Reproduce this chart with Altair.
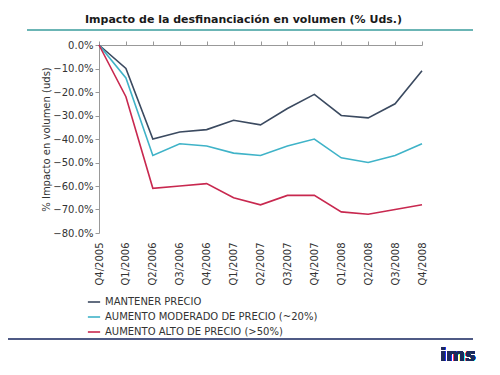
import altair as alt
import pandas as pd

quarters = ["Q4/2005", "Q1/2006", "Q2/2006", "Q3/2006", "Q4/2006", "Q1/2007",
            "Q2/2007", "Q3/2007", "Q4/2007", "Q1/2008", "Q2/2008", "Q3/2008", "Q4/2008"]
series_names = ["MANTENER PRECIO", "AUMENTO MODERADO DE PRECIO (~20%)", "AUMENTO ALTO DE PRECIO (>50%)"]
mantener = [0, -10, -40, -37, -36, -32, -34, -27, -21, -30, -31, -25, -11]
moderado = [0, -14, -47, -42, -43, -46, -47, -43, -40, -48, -50, -47, -42]
alto = [0, -22, -61, -60, -59, -65, -68, -64, -64, -71, -72, -70, -68]
colors = ["#3b4a60", "#3fb3c8", "#c8284f"]

rows = []
for name, vals in zip(series_names, [mantener, moderado, alto]):
    for q, v in zip(quarters, vals):
        rows.append({"quarter": q, "series": name, "value": v / 100.0})
df = pd.DataFrame(rows)

FONT = "DejaVu Sans"

x_scale = alt.Scale(domain=quarters, type="point", padding=0)
y_scale = alt.Scale(domain=[-0.8, 0], nice=False)

lines = alt.Chart(df).mark_line(strokeWidth=1.6).encode(
    x=alt.X("quarter:N", sort=quarters, scale=x_scale,
            axis=alt.Axis(orient="bottom", title=None, labelAngle=270, labelAlign="right",
                          labelBaseline="middle", domain=False, ticks=False, labelPadding=9,
                          labelFontSize=10, labelColor="#333333", labelFont=FONT)),
    y=alt.Y("value:Q", scale=y_scale,
            axis=alt.Axis(format=".1%", values=[0, -0.1, -0.2, -0.3, -0.4, -0.5, -0.6, -0.7, -0.8],
                          grid=False, domainColor="#999999", tickColor="#999999", tickSize=4,
                          labelFontSize=10, labelColor="#333333", labelFont=FONT,
                          title="% Impacto en volumen (uds)", titleFont=FONT, titleFontSize=10,
                          titleFontWeight="normal", titleColor="#333333", titlePadding=1)),
    color=alt.Color("series:N", sort=series_names,
                    scale=alt.Scale(domain=series_names, range=colors),
                    legend=alt.Legend(title=None, orient="none", legendX=-12, legendY=250,
                                      symbolType="stroke", symbolSize=150, symbolStrokeWidth=1.6,
                                      labelFont=FONT, labelFontSize=10, labelColor="#333333",
                                      labelLimit=400, rowPadding=3)),
)

top_axis = alt.Chart(df).mark_point(opacity=0).encode(
    x=alt.X("quarter:N", sort=quarters, scale=x_scale,
            axis=alt.Axis(orient="top", title=None, labels=False, domainColor="#999999",
                          tickColor="#999999", tickSize=4)),
)

teal_rule = alt.Chart(df).mark_rule(color="#6bb5b5", strokeWidth=2).encode(
    x=alt.value(-72), x2=alt.value(374), y=alt.value(-15))
bottom_rule = alt.Chart(df).mark_rule(color="#4f5a85", strokeWidth=2).encode(
    x=alt.value(-91), x2=alt.value(374), y=alt.value(294))
logo = alt.Chart(df).mark_text(text="ims", font=FONT, fontSize=18, fontWeight="bold",
                               color="#1b2a5c", align="center", baseline="middle").encode(
    x=alt.value(359), y=alt.value(311))

chart = alt.layer(teal_rule, bottom_rule, lines, top_axis, logo).resolve_axis(
    x="independent"
).properties(
    width=323, height=188,
    padding={"left": 91, "top": 37, "right": 70, "bottom": 134},
    autosize=alt.AutoSizeParams(type="none"),
    title=alt.TitleParams("Impacto de la desfinanciación en volumen (% Uds.)",
                          font=FONT, fontSize=11, fontWeight="bold", color="#1a1a1a",
                          anchor="middle", dx=-17, offset=4),
).configure_view(stroke=None)

chart.save("out.html", embed_options={"renderer": "svg", "actions": False})
